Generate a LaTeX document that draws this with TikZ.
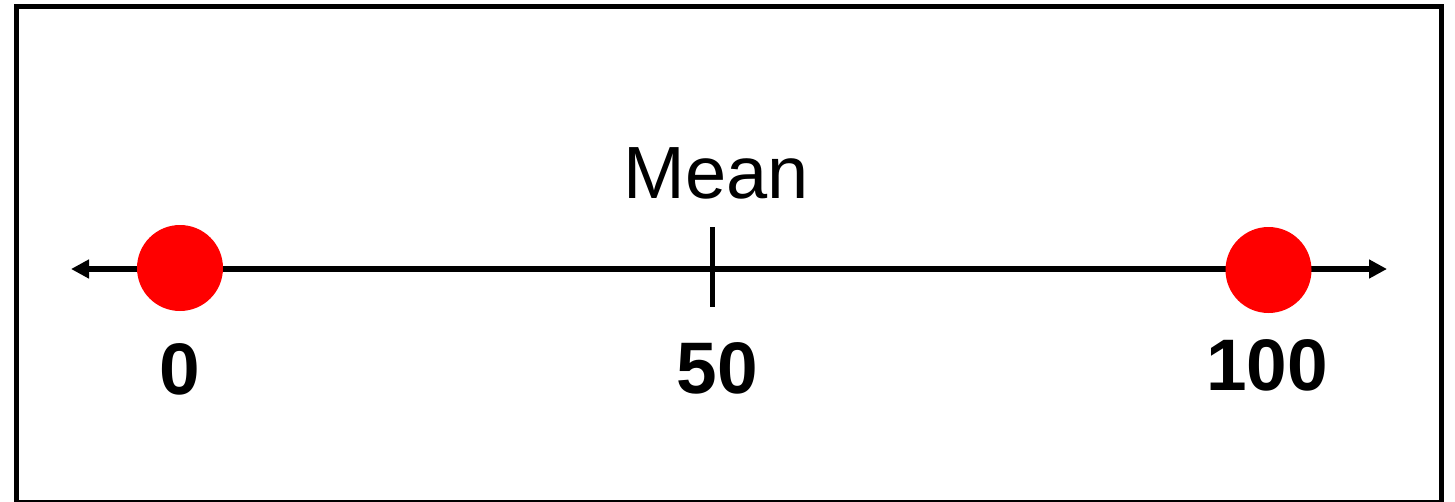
\documentclass[tikz,border=0pt]{standalone}
\usepackage{fontspec}
\setmainfont{Liberation Sans}
\usetikzlibrary{arrows.meta}
\tikzset{
  dot/.style={circle,fill=red,draw=none,minimum size=86pt,inner sep=0pt},
  numlabel/.style={font=\fontsize{73}{80}\selectfont\bfseries,anchor=base,inner sep=0pt},
  meanlabel/.style={font=\fontsize{74}{80}\selectfont,anchor=base,inner sep=0pt},
  axis/.style={line width=5.5pt,{Triangle[length=18pt,width=18pt]}-{Triangle[length=18pt,width=18pt]}},
  tick/.style={line width=5pt},
  frame/.style={line width=5pt}
}
\begin{document}
\begin{tikzpicture}[x=1pt,y=-1pt]
\useasboundingbox (0,0) rectangle (1455,501);
\begin{scope}
\clip (0,0) rectangle (1455,501);
\draw[frame] (16.5,6.5) rectangle (1441.5,502.5);
\end{scope}
\coordinate (L) at (71,269);
\coordinate (R) at (1387,269);
\draw[axis] (L) -- (R);
\coordinate (t1) at (712,227);
\coordinate (t2) at (712,307);
\draw[tick] (t1) -- (t2);
\node[dot] (d0) at (180,268) {};
\node[dot] (d100) at (1268.5,270) {};
\node[meanlabel] (mean) at (716,198) {Mean};
\node[numlabel] (n0) at (180,394) {0};
\node[numlabel] (n50) at (717,393) {50};
\node[numlabel] (n100) at (1267,390) {100};
\end{tikzpicture}
\end{document}
